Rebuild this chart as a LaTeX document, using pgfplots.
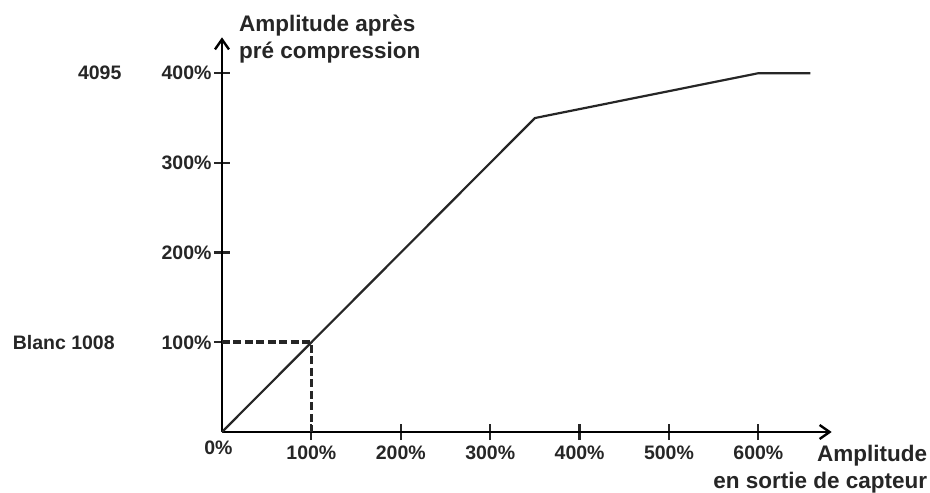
\documentclass[border=0pt]{standalone}
\usepackage{fontspec}
\setmainfont{Liberation Sans}
\usepackage{pgfplots}
\pgfplotsset{compat=1.18}
\usetikzlibrary{arrows.meta}

\begin{document}
\begin{tikzpicture}
\useasboundingbox (-222pt,-61pt) rectangle (708pt,432pt);
\begin{axis}[
    anchor=origin, at={(0pt,0pt)},
    x=0.894pt, y=0.897pt,
    xmin=0, xmax=682, ymin=0, ymax=440,
    axis lines=middle,
    axis line style={line width=2.6pt, -{Straight Barb[length=10pt,width=14pt,line width=2.4pt]}},
    clip=false,
    xtick={100,200,300,400,500,600},
    xticklabels={100\%,200\%,300\%,400\%,500\%,600\%},
    ytick={100,200,300,400},
    yticklabels={100\%,200\%,300\%,400\%},
    major tick length=16pt,
    tick style={line width=2.2pt, black!85},
    tick label style={font=\bfseries\fontsize{19.5}{22}\selectfont, text=black!85},
    xticklabel style={yshift=-2pt},
    yticklabel style={xshift=1pt},
    ]
    % caracteristique de pre compression
    \addplot [line width=2.2pt, black!85] coordinates {
        (0,0) (100,100) (200,200) (350,350) (600,400) (658,400)
    };
    % niveau du blanc
    \addplot [line width=3.6pt, black!85, dash pattern=on 8pt off 3.5pt] coordinates {
        (0,100) (100,100) (100,0)
    };
    \node [anchor=north, font=\bfseries\fontsize{19.5}{22}\selectfont, text=black!85] at (axis cs:-4,-6) {0\%};
    \node [anchor=west, font=\bfseries\fontsize{19.5}{22}\selectfont, text=black!85] at (axis cs:-165,400) {4095};
    \node [anchor=west, font=\bfseries\fontsize{19.5}{22}\selectfont, text=black!85] at (axis cs:-238,100) {Blanc 1008};
    \node [anchor=north west, align=left, font=\bfseries\fontsize{22.5}{27}\selectfont, text=black!85, inner sep=0pt] at (axis cs:19,465) {Amplitude après\\pré compression};
    \node [anchor=north east, align=right, font=\bfseries\fontsize{22.5}{27}\selectfont, text=black!85, inner sep=0pt] at (axis cs:789,-14) {Amplitude\\en sortie de capteur};
\end{axis}
\end{tikzpicture}
\end{document}
